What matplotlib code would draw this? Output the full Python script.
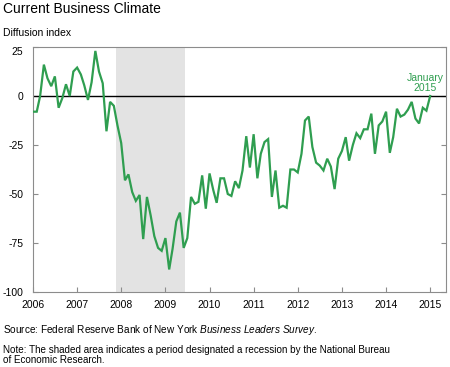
import numpy as np
import pandas as pd
import matplotlib
matplotlib.use("Agg")
import matplotlib.pyplot as plt

# Monthly diffusion index, Jan 2006 - Jan 2015
start_month = "2006-01-01"
climate = [
    -8, -8, 0, 16, 9, 5, 10, -6, -1, 6, 0, 12.5,          # 2006
    14.5, 11, 5.5, -2, 7, 23, 12.5, 6.5, -18, -3, -5, -15,  # 2007
    -24, -43, -40, -49, -53.5, -50.5, -73, -51.5, -61, -71.5, -77.5, -79,  # 2008
    -72.5, -88.5, -78, -64, -59.5, -77.5, -72.5, -51.5, -55, -54, -40.5, -57.5,  # 2009
    -39.5, -48, -54.5, -42, -42, -50, -51, -43.5, -47, -38, -20.5, -36.5,  # 2010
    -19.5, -42, -29.5, -23.5, -22, -51.5, -38, -57, -56, -57, -37.5, -37.5,  # 2011
    -39, -29.5, -12.5, -10.5, -26, -34, -35.5, -38, -32, -36, -47.5, -32,  # 2012
    -28, -21, -33, -25, -19, -21.5, -17, -17, -9, -29.5, -15, -13,  # 2013
    -8, -29, -21, -6.5, -10.5, -9.5, -7, -3, -11.5, -14, -6, -7.5,  # 2014
    0,  # Jan 2015
]
recession_start = "2007-11-15"
recession_end = "2009-06-15"
year_ticks = list(range(2006, 2016))
y_ticks = [25, 0, -25, -50, -75, -100]

plt.rcParams["font.family"] = ["Liberation Sans", "DejaVu Sans"]
plt.rcParams["mathtext.fontset"] = "custom"
plt.rcParams["mathtext.rm"] = "Liberation Sans"
plt.rcParams["mathtext.it"] = "Liberation Sans:italic"

dates = pd.date_range(start_month, periods=len(climate), freq="MS")

fig = plt.figure(figsize=(4.5, 3.67), dpi=100)
ax = fig.add_axes([33 / 450, 75 / 367, 413 / 450, 245 / 367])

ax.axvspan(pd.Timestamp(recession_start), pd.Timestamp(recession_end),
           color="#e3e3e3", lw=0, zorder=0)
ax.axhline(0, color="black", lw=1.0, zorder=2)
ax.plot(dates, climate, color="#2f9e50", lw=1.6, zorder=3,
        solid_joinstyle="miter")

ax.set_ylim(-100, 25)
ax.set_xlim(pd.Timestamp("2006-01-01"), pd.Timestamp("2015-05-12"))
ax.set_yticks(y_ticks)
ax.set_yticklabels([str(v) for v in y_ticks])
ax.set_xticks([pd.Timestamp(f"{y}-01-01") for y in year_ticks])
ax.set_xticklabels([str(y) for y in year_ticks])

for s in ax.spines.values():
    s.set_color("#8c8c8c")
    s.set_linewidth(0.8)

ax.tick_params(axis="x", direction="in", length=3.6, color="#8c8c8c",
               labelsize=7.5, pad=6)
ax.tick_params(axis="y", direction="in", length=3.6, color="#8c8c8c",
               labelsize=7.5, pad=7, right=True)
ax.get_yticklabels()[0].set_va("top")

ax.text(pd.Timestamp("2014-11-20"), 6.7, "January\n2015", color="#2f9e50",
        fontsize=7.5, ha="center", va="center", linespacing=0.95)

fig.text(3 / 450, 1 - 9 / 367, "Current Business Climate", fontsize=10,
         va="center", ha="left")
fig.text(3 / 450, 1 - 33 / 367, "Diffusion index", fontsize=7.5,
         va="center", ha="left")
fig.text(3 / 450, 1 - 330 / 367,
         "Source: Federal Reserve Bank of New York $\\it{Business\\ Leaders\\ Survey}$.",
         fontsize=7.2, va="center", ha="left")
fig.text(3 / 450, 1 - 355 / 367,
         "Note: The shaded area indicates a period designated a recession by the National Bureau\n"
         "of Economic Research.",
         fontsize=7.1, va="center", ha="left", linespacing=1.05)

fig.savefig("out.png", dpi=100)
